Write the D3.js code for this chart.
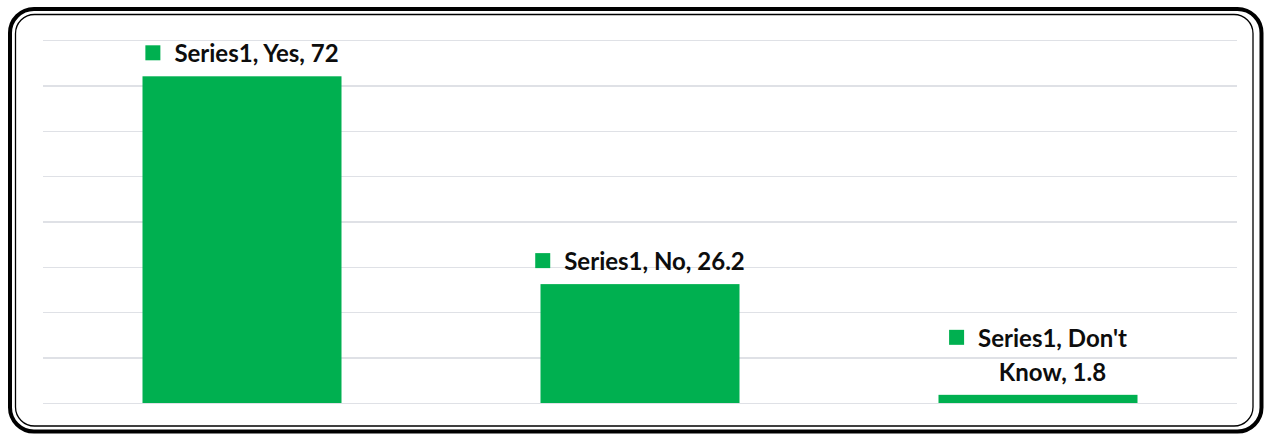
<!DOCTYPE html>
<html lang="en">
<head>
    <meta charset="UTF-8">
    <title>Series1</title>
    <script src="https://d3js.org/d3.v7.min.js"></script>
    <style>
    body{
        margin: 0;
        background: #fff;
    }
    .grid line{
        stroke: #dfe1e6;
        stroke-width: 1.3;
        shape-rendering: crispEdges;
    }
    .grid path{
        display: none;
    }
    .label text{
        font-family: Lato, "Open Sans", sans-serif;
        font-weight: bold;
        font-size: 24px;
        fill: #0d0d0d;
    }
    </style>
</head>
<body>
    <script>
    var width = 1268;
    var height = 435;

    // data
    var seriesName = "Series1";
    var categories = ["Yes", "No", "Don't Know"];
    var values = [72, 26.2, 1.8];
    var tickValues = [0, 10, 20, 30, 40, 50, 60, 70, 80];

    var svg = d3.select("body")
        .append("svg")
        .attr("width", width)
        .attr("height", height);

    // double rounded frame
    svg.append("rect")
        .attr("x", 10).attr("y", 9)
        .attr("width", 1251.5).attr("height", 422.5)
        .attr("rx", 24).attr("ry", 24)
        .attr("fill", "none")
        .attr("stroke", "#000")
        .attr("stroke-width", 4);
    svg.append("rect")
        .attr("x", 15.5).attr("y", 14.5)
        .attr("width", 1237.5).attr("height", 411.5)
        .attr("rx", 19).attr("ry", 19)
        .attr("fill", "none")
        .attr("stroke", "#000")
        .attr("stroke-width", 1.3);

    // scales
    var xScale = d3.scaleBand()
        .domain(categories)
        .range([43, 1237])
        .paddingInner(0.5)
        .paddingOuter(0.25);

    var yScale = d3.scaleLinear()
        .domain([0, 80])
        .range([403, 40]);

    // gridlines
    svg.append("g")
        .attr("class", "grid")
        .attr("transform", "translate(43,0)")
        .call(d3.axisLeft(yScale).tickValues(tickValues).tickSize(-(1237 - 43)).tickFormat(""));

    // bars
    svg.selectAll(".bar")
        .data(values)
        .enter()
        .append("rect")
        .attr("class", "bar")
        .attr("x", function(d, i) { return xScale(categories[i]); })
        .attr("y", function(d) { return yScale(d); })
        .attr("width", xScale.bandwidth())
        .attr("height", function(d) { return yScale(0) - yScale(d); })
        .attr("fill", "#00b050");

    // data labels (wrap at 200px like excel does)
    var maxW = 200, lineH = 34, marker = 15, gap = 14;
    values.forEach(function(v, i) {
        var cat = categories[i];
        var words = (seriesName + ", " + cat + ", " + v).split(" ");
        var g = svg.append("g").attr("class", "label");
        var lines = [], cur = "";
        var probe = g.append("text");
        words.forEach(function(w) {
            var t = cur ? cur + " " + w : w;
            probe.text(t);
            if (cur && probe.node().getComputedTextLength() > maxW) {
                lines.push(cur);
                cur = w;
            } else {
                cur = t;
            }
        });
        lines.push(cur);
        probe.remove();

        var widths = [];
        lines.forEach(function(l, j) {
            var t = g.append("text")
                .attr("text-anchor", "middle")
                .attr("x", 0)
                .attr("y", (j - lines.length + 1) * lineH)
                .text(l);
            widths.push(t.node().getComputedTextLength());
        });
        var w0 = d3.max(widths);
        g.append("rect")
            .attr("x", -w0 / 2 - gap - marker)
            .attr("y", -(lines.length - 1) * lineH - 17)
            .attr("width", marker)
            .attr("height", marker)
            .attr("fill", "#00b050");

        var cx = xScale(cat) + xScale.bandwidth() / 2 + (marker + gap) / 2;
        g.attr("transform", "translate(" + cx + "," + (yScale(v) - 14) + ")");
    });
    </script>
</body>
</html>
